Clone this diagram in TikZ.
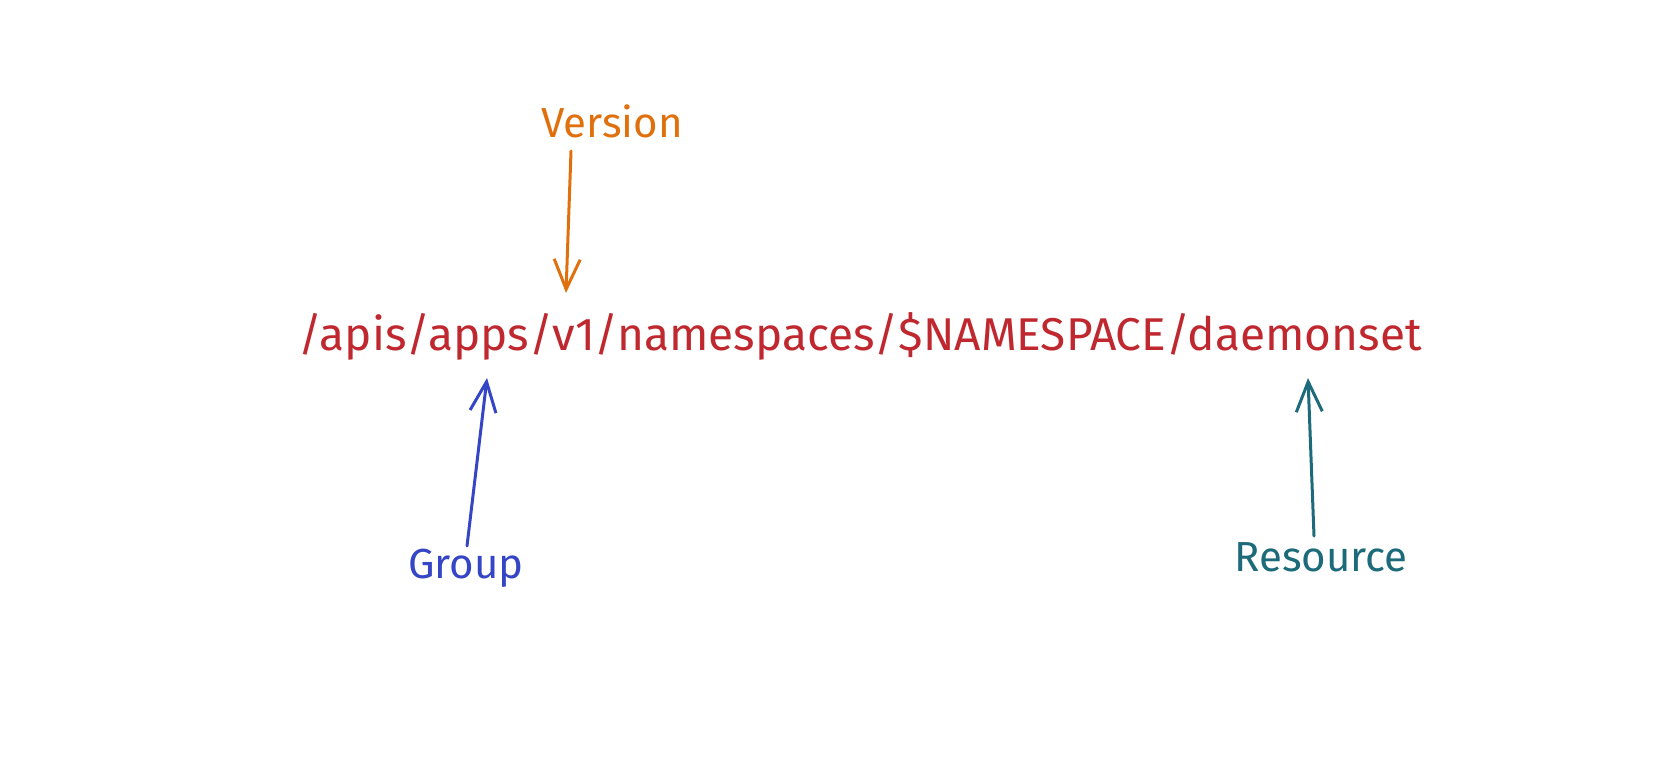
\documentclass[tikz,border=0pt]{standalone}
\usepackage{fontspec}
\setmainfont{Fira Sans}
\usetikzlibrary{arrows.meta}
\definecolor{pathred}{HTML}{C0282F}
\definecolor{verorange}{HTML}{E0700E}
\definecolor{grpblue}{HTML}{3445C6}
\definecolor{resteal}{HTML}{1C6A7A}
\tikzset{
  lbl/.style={inner sep=0pt, font=\fontsize{42}{48}\selectfont},
  pathtext/.style={inner sep=0pt, font=\fontsize{46}{54}\selectfont, text=pathred},
  sketcharrow/.style={line width=3pt, line cap=round, -{Straight Barb[length=30pt,width=26pt,line width=3pt]}},
}
\begin{document}
\begin{tikzpicture}[x=1pt,y=-1pt]
\useasboundingbox (0,0) rectangle (1654,776);
\node[pathtext] (main) at (860,336) {/apis/apps/v1/namespaces/\$NAMESPACE/daemonset};
\node[lbl, text=verorange] (version) at (612,121) {Version};
\node[lbl, text=grpblue] (group) at (466,568) {Group};
\node[lbl, text=resteal] (resource) at (1321,557) {Resource};
\coordinate (vs) at (571,151);
\coordinate (ve) at (566,293);
\coordinate (gs) at (467,546);
\coordinate (ge) at (487,378);
\coordinate (rs) at (1314,536);
\coordinate (re) at (1308,378);
\draw[sketcharrow, verorange] (vs) -- (ve);
\draw[sketcharrow, grpblue] (gs) -- (ge);
\draw[sketcharrow, resteal] (rs) -- (re);
\end{tikzpicture}
\end{document}
